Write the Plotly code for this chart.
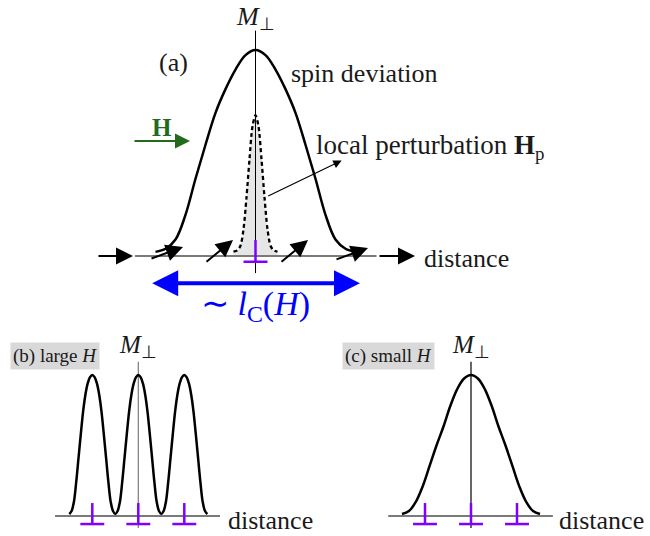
import plotly.graph_objects as go

# ---------------- data ----------------
# panel (a): broad spin-deviation profile (distance units, M_perp units)
a_main_x = [-1.0, -0.9, -0.8, -0.7, -0.6, -0.5, -0.4, -0.3, -0.2, -0.1, 0.0,
            0.1, 0.2, 0.3, 0.4, 0.5, 0.6, 0.7, 0.8, 0.9, 1.0]
a_main_y = [0.02, 0.035, 0.08, 0.2, 0.375, 0.54, 0.695, 0.81, 0.905, 0.975, 1.0,
            0.975, 0.905, 0.81, 0.695, 0.54, 0.375, 0.2, 0.08, 0.035, 0.02]
# panel (a): local perturbation (dotted, shaded)
a_pert_x = [-0.22, -0.18, -0.15, -0.12, -0.09, -0.06, -0.03, 0.0,
            0.03, 0.06, 0.09, 0.12, 0.15, 0.18, 0.22]
a_pert_y = [0.021, 0.028, 0.05, 0.13, 0.285, 0.47, 0.63, 0.684,
            0.63, 0.47, 0.285, 0.13, 0.05, 0.028, 0.021]
# panel (a): spin arrows (tail x, tail y, head x, head y)
spin_tail_x = [-1.585, -1.055, -0.505, 0.245, 0.795, 1.225]
spin_tail_y = [0.0, -0.015, -0.034, -0.034, -0.019, 0.0]
spin_head_x = [-1.225, -0.725, -0.225, 0.525, 1.125, 1.595]
spin_head_y = [0.0, 0.044, 0.078, 0.078, 0.039, 0.0]
a_disloc = [0.0]

# panel (b): large H, one narrow peak per dislocation (offset from peak, height)
b_peak_dx = [-0.5, -0.45, -0.4, -0.35, -0.3, -0.25, -0.2, -0.15, -0.1, -0.05, 0.0,
             0.05, 0.1, 0.15, 0.2, 0.25, 0.3, 0.35, 0.4, 0.45, 0.5]
b_peak_y = [0.014, 0.035, 0.1, 0.24, 0.41, 0.58, 0.74, 0.86, 0.94, 0.985, 1.0,
            0.985, 0.94, 0.86, 0.74, 0.58, 0.41, 0.24, 0.1, 0.035, 0.014]
b_disloc = [-1.0, 0.0, 1.0]

# panel (c): small H, one broad profile over all dislocations
c_x = [-1.5, -1.35, -1.2, -1.05, -0.9, -0.75, -0.6, -0.45, -0.3, -0.15, 0.0,
       0.15, 0.3, 0.45, 0.6, 0.75, 0.9, 1.05, 1.2, 1.35, 1.5]
c_y = [0.014, 0.035, 0.1, 0.21, 0.355, 0.5, 0.633, 0.78, 0.9, 0.975, 1.0,
       0.975, 0.9, 0.78, 0.633, 0.5, 0.355, 0.21, 0.1, 0.035, 0.014]
c_disloc = [-1.0, 0.0, 1.0]

# ---------------- geometry / styles ----------------
W, H = 650, 536
FONT = "Liberation Serif"
TXT = "#1a1a1a"
GRAY = "#7a7a7a"
PURPLE = "#7f00ff"
BLUE = "#0000ff"
GREEN = "#236b1c"


def axis_ranges(px0, px1, py0, py1, cx, cy, sx, sy):
    """pixel box + origin pixel + pixels per unit -> data ranges and paper domains"""
    xr = [(px0 - cx) / sx, (px1 - cx) / sx]
    yr = [(cy - py1) / sy, (cy - py0) / sy]
    xd = [px0 / W, px1 / W]
    yd = [1 - py1 / H, 1 - py0 / H]
    return xr, yr, xd, yd


panels = {
    "a": axis_ranges(0, 650, 0, 330, 255.5, 256, 100, 206),
    "b": axis_ranges(0, 325, 330, 536, 138.3, 516, 46, 141),
    "c": axis_ranges(325, 650, 330, 536, 471, 516, 46, 141),
}
names = {"a": ("x", "y"), "b": ("x2", "y2"), "c": ("x3", "y3")}

fig = go.Figure()


def seg(p, xs, ys, color, width, dash=None):
    xa, ya = names[p]
    fig.add_trace(go.Scatter(x=xs, y=ys, mode="lines", xaxis=xa, yaxis=ya,
                             line=dict(color=color, width=width, dash=dash),
                             hoverinfo="skip", showlegend=False))


def curve(p, xs, ys, **kw):
    xa, ya = names[p]
    fig.add_trace(go.Scatter(x=xs, y=ys, mode="lines", xaxis=xa, yaxis=ya,
                             hoverinfo="skip", showlegend=False, **kw))


def disloc(p, xs, up, down, half):
    for x0 in xs:
        seg(p, [x0, x0], [down, up], PURPLE, 2.5)
        seg(p, [x0 - half, x0 + half], [down, down], PURPLE, 2.5)


def text(p, x, y, s, size, color=TXT, xanchor="center", **kw):
    xa, ya = names[p]
    fig.add_annotation(x=x, y=y, xref=xa, yref=ya, text=s, showarrow=False,
                       xanchor=xanchor, yanchor="middle",
                       font=dict(family=FONT, size=size, color=color), **kw)


def arrow(p, x0, y0, x1, y1, color, width, head=2, size=1.0, side="end"):
    xa, ya = names[p]
    fig.add_annotation(x=x1, y=y1, ax=x0, ay=y0, xref=xa, yref=ya, axref=xa, ayref=ya,
                       text="", showarrow=True, arrowhead=head, arrowsize=size,
                       arrowwidth=width, arrowcolor=color, arrowside=side,
                       font=dict(family=FONT, size=12))


# ---------------- panel (a) ----------------
curve("a", a_pert_x, a_pert_y,
      line=dict(color="black", width=2.3, dash="4px,3px", shape="spline", smoothing=0.8),
      fill="tozeroy", fillcolor="#e6e6e6")
seg("a", [-1.205, 1.21], [0, 0], GRAY, 2)
seg("a", [0, 0], [-0.083, 1.094], "black", 1)
curve("a", a_main_x, a_main_y, line=dict(color="black", width=2.5, shape="spline", smoothing=1))
disloc("a", a_disloc, 0.078, -0.028, 0.12)
for tx, ty, hx, hy in zip(spin_tail_x, spin_tail_y, spin_head_x, spin_head_y):
    arrow("a", tx, ty, hx, hy, "black", 2, head=2, size=1.7)

arrow("a", -1.225, 0.558, -0.655, 0.558, GREEN, 2, head=2, size=1.5)
text("a", -0.94, 0.625, "<b>H</b>", 25, color=GREEN)
arrow("a", 0.112, 0.288, 0.862, 0.463, "black", 1.2, head=2, size=1.4)
arrow("a", -1.048, -0.1325, 1.045, -0.1325, BLUE, 4, head=2, size=1.3, side="end+start")

text("a", 0.0, 1.155, "<i>M</i><sub>⊥</sub>", 26)
text("a", -0.82, 0.937, "(a)", 26)
text("a", 0.33, 0.885, "spin deviation", 26, xanchor="left")
text("a", 0.585, 0.527, "local perturbation <b>H</b><sub>p</sub>", 27, xanchor="left")
text("a", 1.665, -0.01, "distance", 26, xanchor="left")
text("a", 0.0, -0.245, "∼ <i>l</i><sub>C</sub>(<i>H</i>)", 34, color=BLUE)

# ---------------- panel (b) ----------------
bx, by = [], []
for c0 in b_disloc:
    for dx, yv in zip(b_peak_dx, b_peak_y):
        if bx and abs(c0 + dx - bx[-1]) < 1e-9:
            continue
        bx.append(c0 + dx)
        by.append(yv)
seg("b", [-1.81, 1.776], [0, 0], GRAY, 2)
seg("b", [0, 0], [-0.085, 1.094], GRAY, 1.2)
curve("b", bx, by, line=dict(color="black", width=2.5, shape="spline", smoothing=1))
disloc("b", b_disloc, 0.092, -0.057, 0.26)
text("b", 0.0, 1.2, "<i>M</i><sub>⊥</sub>", 25)
text("b", 1.9, -0.03, "distance", 26, xanchor="left")
text("b", -1.82, 1.138, "(b) large <i>H</i>", 19, bgcolor="#d9d9d9", borderpad=2)

# ---------------- panel (c) ----------------
seg("c", [-1.80, 1.78], [0, 0], GRAY, 2)
seg("c", [0, 0], [-0.085, 1.094], "black", 1.2)
curve("c", c_x, c_y, line=dict(color="black", width=2.5, shape="spline", smoothing=1))
disloc("c", c_disloc, 0.092, -0.057, 0.26)
text("c", 0.0, 1.2, "<i>M</i><sub>⊥</sub>", 25)
text("c", 1.86, -0.03, "distance", 26, xanchor="left")
text("c", -1.80, 1.138, "(c) small <i>H</i>", 19, bgcolor="#d9d9d9", borderpad=2)

# ---------------- layout ----------------
lay = dict(width=W, height=H, margin=dict(l=0, r=0, t=0, b=0),
           paper_bgcolor="white", plot_bgcolor="white", showlegend=False)
for key, suffix in (("a", ""), ("b", "2"), ("c", "3")):
    xr, yr, xd, yd = panels[key]
    lay["xaxis" + suffix] = dict(range=xr, domain=xd, visible=False, fixedrange=True,
                                 anchor="y" + suffix)
    lay["yaxis" + suffix] = dict(range=yr, domain=yd, visible=False, fixedrange=True,
                                 anchor="x" + suffix)
fig.update_layout(**lay)

fig.write_html("out.html")
